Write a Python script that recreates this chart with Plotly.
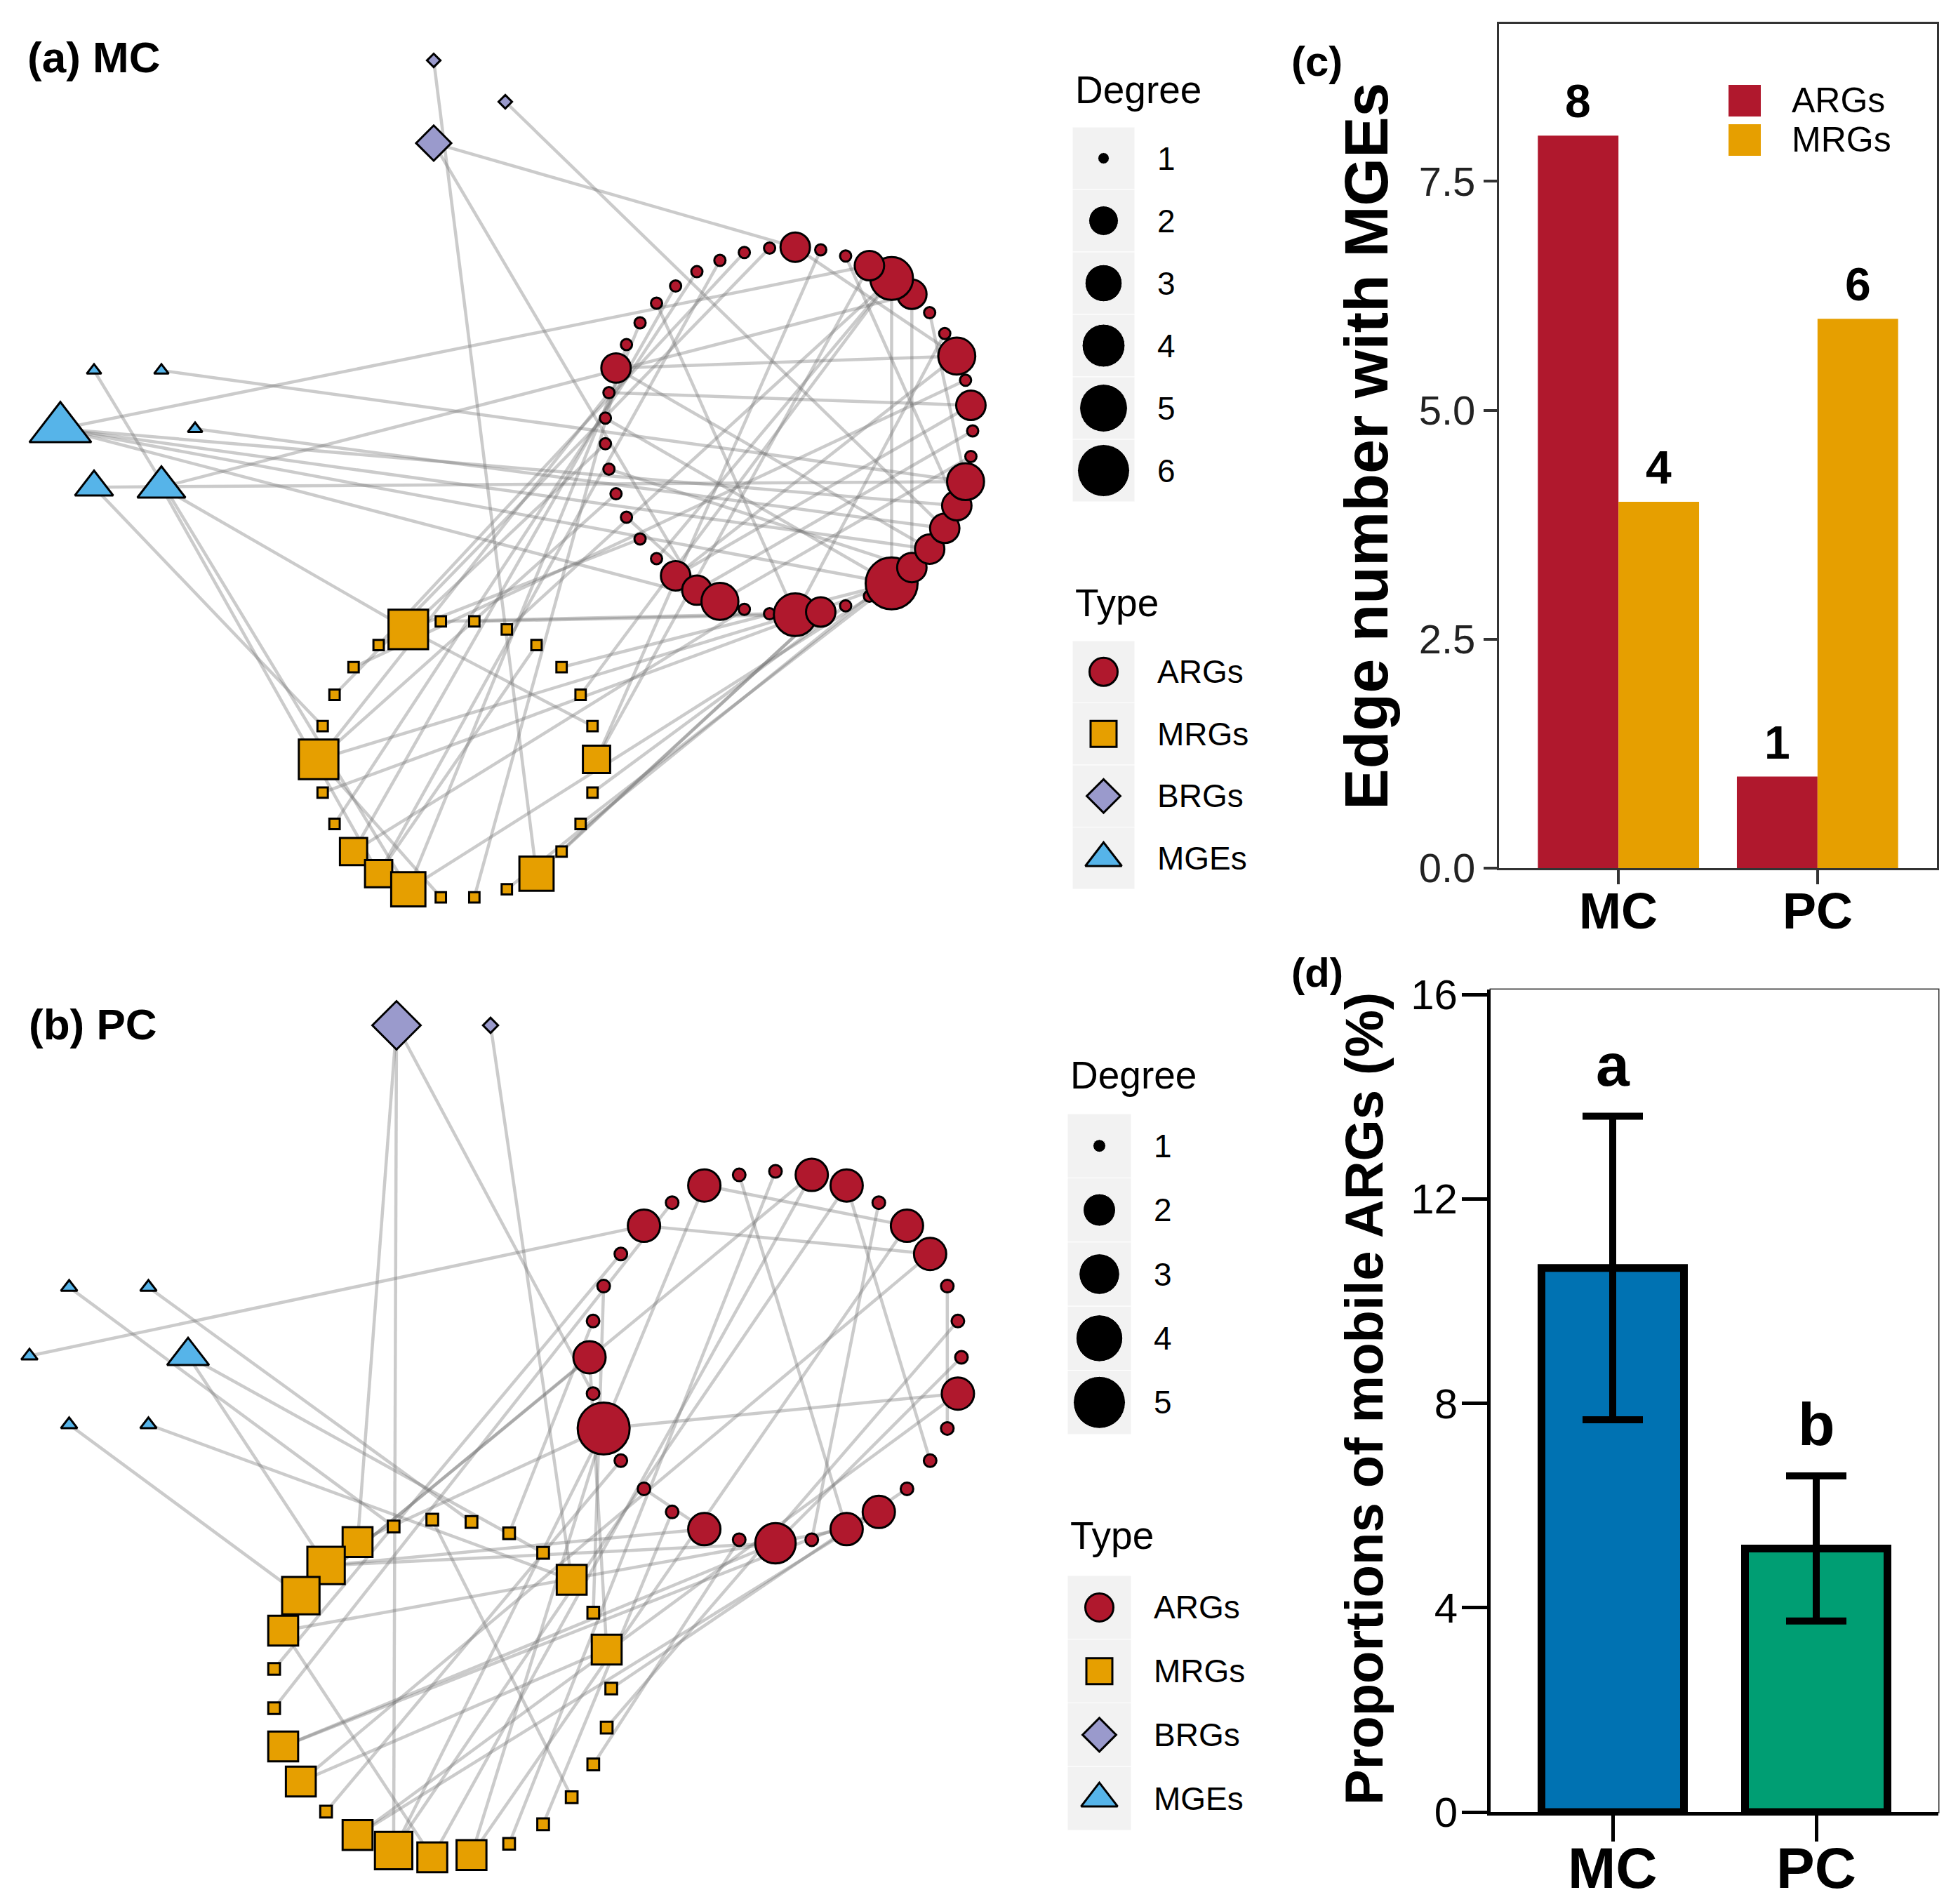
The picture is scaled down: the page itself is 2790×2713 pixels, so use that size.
import math
import plotly.graph_objects as go

W, H = 2790, 2713
FONT = "Liberation Sans, Arial, Helvetica, sans-serif"

# ======================= DATA =======================
# (a) MC network: node degree for each gene type, in circular-layout order
mc_arg_degree = [2, 1, 1, 1, 1, 1, 1, 1, 1, 2, 1, 1, 1, 1, 1, 1, 1, 1, 2, 2,
                 3, 1, 1, 4, 2, 1, 1, 6, 2, 2, 2, 2, 3, 1, 1, 2, 1, 3, 1, 1,
                 2, 4, 2, 1, 1]
mc_mrg_degree = [1, 1, 4, 1, 1, 1, 1, 4, 1, 1, 2, 2, 3, 1, 1, 1, 3, 1, 1, 1,
                 2, 1, 1, 1, 1, 1]
mc_brg_degree = [1, 1, 2]
mc_mge_degree = [1, 1, 1, 5, 2, 3]
mc_edges = [
    ("B", 1, "M", 16), ("B", 2, "A", 0), ("B", 2, "A", 19), ("B", 0, "A", 30),
    ("G", 3, "A", 42), ("G", 3, "A", 31), ("G", 3, "A", 29), ("G", 3, "A", 20), ("G", 3, "A", 27),
    ("G", 5, "A", 40), ("G", 5, "M", 2), ("G", 5, "M", 11),
    ("G", 4, "A", 32), ("G", 4, "M", 6), ("G", 1, "A", 32), ("G", 0, "A", 30), ("G", 2, "M", 12),
    ("M", 2, "A", 12), ("M", 2, "A", 16), ("M", 7, "A", 23), ("M", 7, "A", 14), ("M", 7, "A", 10),
    ("M", 10, "A", 5), ("M", 10, "A", 21), ("M", 11, "A", 3), ("M", 12, "A", 27), ("M", 12, "A", 7),
    ("M", 16, "A", 24), ("M", 15, "A", 26), ("M", 20, "A", 42), ("M", 20, "A", 44),
    ("M", 0, "A", 23), ("M", 1, "A", 22), ("M", 3, "A", 2), ("M", 4, "A", 36), ("M", 5, "A", 1),
    ("M", 14, "A", 8), ("M", 8, "A", 27), ("M", 9, "A", 4), ("M", 17, "A", 24), ("M", 18, "A", 27),
    ("M", 19, "A", 25), ("M", 22, "A", 41), ("M", 23, "A", 27), ("M", 25, "A", 41),
    ("M", 2, "M", 21), ("M", 7, "M", 13), ("M", 11, "M", 24),
    ("A", 41, "A", 27), ("A", 40, "A", 28), ("A", 9, "A", 37), ("A", 0, "A", 37), ("A", 9, "A", 29),
    ("A", 37, "A", 18), ("A", 35, "A", 18), ("A", 35, "A", 10), ("A", 23, "A", 38), ("A", 23, "A", 6),
    ("A", 27, "A", 11), ("A", 41, "A", 17), ("A", 28, "A", 13), ("A", 20, "A", 33), ("A", 20, "A", 15),
    ("A", 19, "A", 34), ("A", 31, "A", 43), ("A", 32, "A", 39),
]

# (b) PC network
pc_arg_degree = [1, 1, 2, 1, 2, 1, 1, 1, 2, 1, 5, 1, 1, 1, 2, 1, 3, 1, 2, 2,
                 1, 1, 1, 2, 1, 1, 1, 2, 2, 1, 2, 2]
pc_mrg_degree = [1, 2, 1, 2, 1, 1, 1, 1, 1, 2, 3, 3, 2, 1, 1, 2, 2, 1, 2, 3,
                 2, 2, 1, 1, 1, 1, 1]
pc_brg_degree = [1, 3]
pc_mge_degree = [2, 1, 1, 1, 1, 1]
pc_edges = [
    ("B", 1, "M", 19), ("B", 1, "M", 9), ("B", 1, "A", 9), ("B", 0, "M", 3),
    ("G", 3, "A", 4), ("G", 0, "M", 10), ("G", 0, "M", 4), ("G", 1, "M", 6), ("G", 2, "M", 8),
    ("G", 4, "M", 11), ("G", 5, "M", 3),
    ("A", 2, "A", 28), ("A", 4, "A", 27), ("A", 10, "A", 23), ("A", 10, "A", 2), ("A", 1, "A", 18),
    ("A", 29, "A", 17), ("A", 26, "A", 22), ("A", 30, "A", 21), ("A", 12, "A", 14), ("A", 24, "A", 16),
    ("M", 12, "M", 20), ("M", 7, "M", 24), ("M", 16, "M", 1),
    ("A", 8, "M", 11), ("A", 8, "M", 1), ("A", 10, "M", 9), ("A", 10, "M", 19), ("A", 10, "M", 21),
    ("A", 14, "M", 10), ("A", 16, "M", 10), ("A", 16, "M", 15), ("A", 18, "M", 12), ("A", 19, "M", 15),
    ("A", 19, "M", 18), ("A", 23, "M", 18), ("A", 27, "M", 16), ("A", 28, "M", 21), ("A", 30, "M", 19),
    ("A", 31, "M", 20), ("A", 31, "M", 11), ("A", 0, "M", 22), ("A", 3, "M", 14), ("A", 5, "M", 13),
    ("A", 6, "M", 2), ("A", 7, "M", 5), ("A", 11, "M", 17), ("A", 13, "M", 23), ("A", 15, "M", 25),
    ("A", 20, "M", 0), ("A", 25, "M", 26),
]

# (c) edge number with MGEs
c_groups = ["MC", "PC"]
c_arg_edges = [8, 1]
c_mrg_edges = [4, 6]
c_series = ["ARGs", "MRGs"]

# (d) proportions of mobile ARGs (%)
d_groups = ["MC", "PC"]
d_mean = [10.65, 5.16]
d_err = [2.97, 1.42]
d_letters = ["a", "b"]

type_labels = ["ARGs", "MRGs", "BRGs", "MGEs"]

# ======================= STYLE / LAYOUT =======================
ARG_COL = "#B0182D"
MRG_COL = "#E69F00"
BRG_COL = "#9A9ACC"
MGE_COL = "#56B4E9"
EDGE_COL = "rgba(110,110,110,0.36)"
KEY_BG = "#F2F2F2"

TYPE_STYLE = {
    "A": dict(symbol="circle", color=ARG_COL, factor=1.0),
    "M": dict(symbol="square", color=MRG_COL, factor=0.925),
    "B": dict(symbol="diamond", color=BRG_COL, factor=0.92),
    "G": dict(symbol="triangle-up", color=MGE_COL, factor=1.125),
}

# circular-layout rings (screen-pixel frame of the network axes)
rings_mc = {
    "A": dict(cx=1124, cy=614, r=262, start=88.0),
    "M": dict(cx=652, cy=1082, r=198, start=90.0 - 180.0 / 26),
    "G": dict(cx=182, cy=611, r=96, start=0.0),
    "B": dict(cx=652, cy=145, r=68, start=0.0),
}
rings_pc = {
    "A": dict(cx=1105, cy=1934, r=265, start=90.0),
    "M": dict(cx=630, cy=2406, r=241, start=0.0),
    "G": dict(cx=155, cy=1932, r=113, start=0.0),
    "B": dict(cx=632, cy=1461, r=67, start=0.0),
}


def ring_positions(n, cx, cy, r, start):
    step = 360.0 / n
    xs, ys = [], []
    for k in range(n):
        t = math.radians(start + k * step)
        xs.append(cx + r * math.cos(t))
        ys.append(cy - r * math.sin(t))
    return xs, ys


def size_scale(deg, dmax, smin, smax):
    # ggplot2 area palette: size grows with sqrt of rescaled value
    return smin + (smax - smin) * math.sqrt((deg - 1) / (dmax - 1))


fig = go.Figure()


def add_network(degrees, rings, edges, smin, smax):
    pos = {}
    for t, degs in degrees.items():
        rg = rings[t]
        pos[t] = ring_positions(len(degs), rg["cx"], rg["cy"], rg["r"], rg["start"])
    for (t1, i1, t2, i2) in edges:
        fig.add_trace(go.Scatter(
            x=[pos[t1][0][i1], pos[t2][0][i2]], y=[pos[t1][1][i1], pos[t2][1][i2]],
            mode="lines", line=dict(color=EDGE_COL, width=4.5),
            hoverinfo="skip", showlegend=False, xaxis="x", yaxis="y"))
    dmax = max(max(d) for d in degrees.values())
    for t in ["M", "A", "B", "G"]:
        st = TYPE_STYLE[t]
        fig.add_trace(go.Scatter(
            x=pos[t][0], y=pos[t][1], mode="markers",
            marker=dict(symbol=st["symbol"], color=st["color"], opacity=1,
                        size=[size_scale(d, dmax, smin, smax) * st["factor"] for d in degrees[t]],
                        line=dict(color="black", width=3)),
            hoverinfo="skip", showlegend=False, xaxis="x", yaxis="y"))
    return dmax


dmax_mc = add_network({"A": mc_arg_degree, "M": mc_mrg_degree, "B": mc_brg_degree, "G": mc_mge_degree},
                      rings_mc, mc_edges, 16, 74)
dmax_pc = add_network({"A": pc_arg_degree, "M": pc_mrg_degree, "B": pc_brg_degree, "G": pc_mge_degree},
                      rings_pc, pc_edges, 18, 74)

shapes = []
annotations = []


def text(x, y, s, size, bold=False, anchor="left", yanchor="middle", angle=0, color="black", ref=("x", "y")):
    annotations.append(dict(
        x=x, y=y, xref=ref[0], yref=ref[1], text=("<b>%s</b>" % s) if bold else s,
        showarrow=False, xanchor=anchor, yanchor=yanchor, textangle=angle,
        font=dict(family=FONT, size=size, color=color)))


def draw_legend(dmax, smin, smax, kx0, kx1, deg_title_y, deg_top, deg_row, type_title_y, type_top, type_row, lab_x):
    kcx = (kx0 + kx1) / 2
    text(kx0 + 2, deg_title_y, "Degree", 55)
    degs = list(range(1, dmax + 1))
    ys = []
    for i, d in enumerate(degs):
        y0 = deg_top + i * deg_row
        shapes.append(dict(type="rect", xref="x", yref="y", x0=kx0, x1=kx1, y0=y0, y1=y0 + deg_row,
                           fillcolor=KEY_BG, line=dict(color="white", width=1), layer="below"))
        ys.append(y0 + deg_row / 2)
        text(lab_x, y0 + deg_row / 2, str(d), 46)
    fig.add_trace(go.Scatter(x=[kcx] * len(degs), y=ys, mode="markers",
                             marker=dict(color="black", opacity=1,
                                         size=[size_scale(d, dmax, smin, smax) for d in degs]),
                             hoverinfo="skip", showlegend=False, xaxis="x", yaxis="y"))
    text(kx0 + 2, type_title_y, "Type", 55)
    for i, (t, lab) in enumerate(zip(["A", "M", "B", "G"], type_labels)):
        y0 = type_top + i * type_row
        shapes.append(dict(type="rect", xref="x", yref="y", x0=kx0, x1=kx1, y0=y0, y1=y0 + type_row,
                           fillcolor=KEY_BG, line=dict(color="white", width=1), layer="below"))
        st = TYPE_STYLE[t]
        fig.add_trace(go.Scatter(x=[kcx], y=[y0 + type_row / 2], mode="markers",
                                 marker=dict(symbol=st["symbol"], color=st["color"], opacity=1,
                                             size=40 * st["factor"], line=dict(color="black", width=3)),
                                 hoverinfo="skip", showlegend=False, xaxis="x", yaxis="y"))
        text(lab_x, y0 + type_row / 2, lab, 46)


draw_legend(dmax_mc, 16, 74, 1528, 1617, 128, 181, 89, 859, 913, 88.5, 1647)
draw_legend(dmax_pc, 18, 74, 1521, 1612, 1532, 1587, 91.4, 2188, 2245, 90.75, 1642)

text(37, 81, "(a) MC", 62, bold=True)
text(39, 1459, "(b) PC", 62, bold=True)

# ---------------- panel (c) ----------------
c_x = list(range(len(c_groups)))
BW_C = 0.405
fig.add_trace(go.Bar(x=c_x, y=c_arg_edges, width=BW_C, offset=-BW_C, marker=dict(color=ARG_COL, line=dict(width=0)),
                     xaxis="x2", yaxis="y2", showlegend=False, hoverinfo="skip"))
fig.add_trace(go.Bar(x=c_x, y=c_mrg_edges, width=BW_C, offset=0, marker=dict(color=MRG_COL, line=dict(width=0)),
                     xaxis="x2", yaxis="y2", showlegend=False, hoverinfo="skip"))
for xi, v in zip(c_x, c_arg_edges):
    annotations.append(dict(x=xi - BW_C / 2, y=v, xref="x2", yref="y2", text="<b>%d</b>" % v, showarrow=False,
                            yanchor="bottom", yshift=10, font=dict(family=FONT, size=66, color="black")))
for xi, v in zip(c_x, c_mrg_edges):
    annotations.append(dict(x=xi + BW_C / 2, y=v, xref="x2", yref="y2", text="<b>%d</b>" % v, showarrow=False,
                            yanchor="bottom", yshift=10, font=dict(family=FONT, size=66, color="black")))
# category labels of (c)
for xi, g in zip(c_x, c_groups):
    annotations.append(dict(x=xi, y=1298, xref="x2", yref="y", text="<b>%s</b>" % g, showarrow=False,
                            xanchor="center", yanchor="middle", font=dict(family=FONT, size=72, color="black")))
# legend of (c)
for i, (lab, col) in enumerate(zip(c_series, [ARG_COL, MRG_COL])):
    y0 = 121 + i * 56
    shapes.append(dict(type="rect", xref="x", yref="y", x0=2463, x1=2509, y0=y0, y1=y0 + 45,
                       fillcolor=col, line=dict(width=0)))
    text(2551, y0 + 22, lab, 50)
text(1838, 87, "(c)", 60, bold=True)
text(1946, 636, "Edge number with MGEs", 88, bold=True, anchor="center", angle=-90)

# ---------------- panel (d) ----------------
d_x = list(range(len(d_groups)))
fig.add_trace(go.Bar(x=d_x, y=d_mean, width=0.70,
                     marker=dict(color=["#0072B2", "#009E73"], line=dict(color="black", width=11)),
                     error_y=dict(type="data", array=d_err, visible=True, color="black", thickness=10, width=43),
                     xaxis="x3", yaxis="y3", showlegend=False, hoverinfo="skip"))
for xi, m, e, l in zip(d_x, d_mean, d_err, d_letters):
    annotations.append(dict(x=xi, y=m + e, xref="x3", yref="y3", text="<b>%s</b>" % l, showarrow=False,
                            yanchor="bottom", yshift=24, font=dict(family=FONT, size=86, color="black")))
for xi, g in zip(d_x, d_groups):
    annotations.append(dict(x=xi, y=2708, xref="x3", yref="y", text="<b>%s</b>" % g, showarrow=False,
                            xanchor="center", yanchor="bottom", borderpad=0,
                            font=dict(family=FONT, size=82, color="black")))
text(1838, 1385, "(d)", 58, bold=True)
text(1943, 1993, "Proportions of mobile ARGs (%)", 76, bold=True, anchor="center", angle=-90)

# box of (d): thin top/right frame
shapes.append(dict(type="rect", xref="x", yref="y", x0=2124, x1=2762, y0=1410, y1=2582,
                   line=dict(color="#333333", width=3), layer="below"))


def px_dom_x(a, b):
    return [a / W, b / W]


def px_dom_y(top, bottom):
    return [1 - bottom / H, 1 - top / H]


fig.update_layout(
    width=W, height=H, margin=dict(l=0, r=0, t=0, b=0, pad=0, autoexpand=False),
    paper_bgcolor="white", plot_bgcolor="white", barmode="overlay", showlegend=False,
    font=dict(family=FONT, color="black"),
    xaxis=dict(domain=[0, 1], range=[0, W], visible=False, fixedrange=True, automargin=False),
    yaxis=dict(domain=[0, 1], range=[H, 0], visible=False, fixedrange=True, automargin=False),
    xaxis2=dict(domain=px_dom_x(2136, 2760), anchor="y2", range=[-0.6, 1.6], automargin=False,
                tickvals=c_x, showticklabels=False,
                ticks="outside", ticklen=20, tickwidth=4, tickcolor="#333333",
                showline=True, linecolor="#333333", linewidth=3, mirror=True,
                showgrid=False, zeroline=False),
    yaxis2=dict(domain=px_dom_y(34, 1237), anchor="x2", range=[0, 9.22], automargin=False,
                tickvals=[0, 2.5, 5, 7.5], ticktext=["0.0", "2.5", "5.0", "7.5"],
                tickfont=dict(family=FONT, size=58, color="#222222"),
                ticks="outside", ticklen=19, tickwidth=4, tickcolor="#333333",
                showline=True, linecolor="#333333", linewidth=3, mirror=True,
                showgrid=False, zeroline=False, ticklabelstandoff=0),
    xaxis3=dict(domain=px_dom_x(2124, 2762), anchor="y3", range=[-0.6, 1.6], automargin=False,
                tickvals=d_x, showticklabels=False,
                ticks="outside", ticklen=37, tickwidth=5, tickcolor="black",
                showline=True, linecolor="black", linewidth=5,
                showgrid=False, zeroline=False),
    yaxis3=dict(domain=px_dom_y(1410, 2582), anchor="x3", range=[0, 16.1], automargin=False,
                tickvals=[0, 4, 8, 12, 16],
                tickfont=dict(family=FONT, size=60, color="black"),
                ticks="outside", ticklen=36, tickwidth=5, tickcolor="black",
                showline=True, linecolor="black", linewidth=5,
                showgrid=False, zeroline=False, ticklabelstandoff=-6),
    shapes=shapes, annotations=annotations,
)

fig.write_html("out.html", config={"displayModeBar": False},
               post_script="document.body.style.margin='0';document.body.style.overflow='hidden';")
